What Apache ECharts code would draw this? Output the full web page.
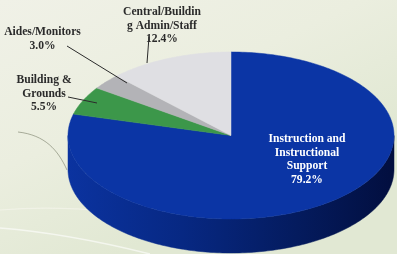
<!DOCTYPE html>
<html><head><meta charset="utf-8">
<script src="https://cdn.jsdelivr.net/npm/echarts@6/dist/echarts.min.js"></script>
<style>html,body{margin:0;padding:0;background:#eef0e4;} #c{width:397px;height:254px;}</style>
</head><body><div id="c"></div>
<script>
// ---- data ----
const categories = ['Instruction and\nInstructional\nSupport', 'Building &\nGrounds', 'Aides/Monitors', 'Central/Buildin\ng Admin/Staff'];
const values = [79.2, 5.5, 3.0, 12.4];
const valueLabels = ['79.2%', '5.5%', '3.0%', '12.4%'];

// ---- styles / layout ----
const topColors = ['#0b35a5', '#3c974a', '#b3b3b7', '#dfdfe3'];
const sideColors = [
  {type:'linear', x:66, y:0, x2:396, y2:0, global:true, colorStops:[
    {offset:0, color:'#0b33a0'}, {offset:0.35, color:'#072883'}, {offset:0.7, color:'#041b5e'}, {offset:1, color:'#020e3e'}]},
  '#2a7035', '#8a8a8e', '#b0b0b4'
];
const geo = {cx:231, cy:135.5, rx:163, ry:83.5, depth:34};
const labelLayout = [
  {x:307, y:132.5, color:'#ffffff'},
  {x:44, y:73.5, color:'#2b2b2b', line:[[68,97],[97,103]]},
  {x:42.5, y:25.5, color:'#2b2b2b', line:[[67,46],[127,83]]},
  {x:162, y:5.5, color:'#2b2b2b', line:[[149,37],[147,63]]}
];

const total = values.reduce((a, b) => a + b, 0);
const starts = [];
let acc = 0;
values.forEach(v => { starts.push(acc); acc += v; });

function pt(theta, dy) {
  return [geo.cx + geo.rx * Math.sin(theta), geo.cy - geo.ry * Math.cos(theta) + (dy || 0)];
}
function arc(a0, a1, dy) {
  const n = Math.max(2, Math.ceil((a1 - a0) / (Math.PI / 180)));
  const out = [];
  for (let k = 0; k <= n; k++) out.push(pt(a0 + (a1 - a0) * k / n, dy));
  return out;
}

const chart = echarts.init(document.getElementById('c'), null, {renderer:'canvas'});
chart.setOption({
  backgroundColor: {type:'linear', x:0, y:0, x2:0.3, y2:1, colorStops:[
    {offset:0, color:'#f0f1e7'}, {offset:0.55, color:'#ebeedf'}, {offset:1, color:'#e1e8d3'}]},
  animation: false,
  graphic: [
    {type:'bezierCurve', z:-10, silent:true, shape:{x1:18, y1:132, x2:67, y2:170, cpx1:45, cpy1:135, cpx2:58, cpy2:150},
      style:{stroke:'#6f7460', lineWidth:0.8, fill:null, opacity:0.7}},
    {type:'bezierCurve', z:-10, silent:true, shape:{x1:0, y1:228, x2:150, y2:254, cpx1:50, cpy1:232, cpx2:110, cpy2:244},
      style:{stroke:'#ffffff', lineWidth:1.5, fill:null, opacity:0.6}},
    {type:'bezierCurve', z:-10, silent:true, shape:{x1:0, y1:210, x2:180, y2:220, cpx1:60, cpy1:205, cpx2:130, cpy2:212},
      style:{stroke:'#f6f7ee', lineWidth:1.2, fill:null, opacity:0.6}}
  ],
  series: [{
    type: 'custom',
    coordinateSystem: 'none',
    silent: true,
    data: values.map((v, i) => [i, v]),
    renderItem: function (params, api) {
      const i = params.dataIndex;
      const v = api.value(1);
      const a0 = starts[i] / total * 2 * Math.PI;
      const a1 = (starts[i] + v) / total * 2 * Math.PI;
      const children = [];
      const s0 = Math.max(a0, Math.PI / 2), s1 = Math.min(a1, 3 * Math.PI / 2);
      if (s1 > s0) {
        const pts = arc(s0, s1, 0).concat(arc(s0, s1, geo.depth).reverse());
        children.push({type:'polygon', z2:1, shape:{points:pts},
          style:{fill:sideColors[i], stroke:sideColors[i], lineWidth:0.5}});
      }
      const topPts = [[geo.cx, geo.cy]].concat(arc(a0, a1, 0));
      children.push({type:'polygon', z2:2, shape:{points:topPts},
        style:{fill:topColors[i], stroke:topColors[i], lineWidth:0.5}});
      const L = labelLayout[i];
      if (L.line) {
        children.push({type:'line', z2:5, shape:{x1:L.line[0][0], y1:L.line[0][1], x2:L.line[1][0], y2:L.line[1][1]},
          style:{stroke:'#2b2b2b', lineWidth:1}});
      }
      children.push({type:'text', z2:6, x:L.x, y:L.y,
        style:{text: categories[i] + '\n' + valueLabels[i], fill:L.color, align:'center', verticalAlign:'top',
          font:'bold 11.6px "Liberation Serif", "Times New Roman", serif', lineHeight:13.5}});
      return {type:'group', children: children};
    }
  }]
});
</script>
</body></html>
